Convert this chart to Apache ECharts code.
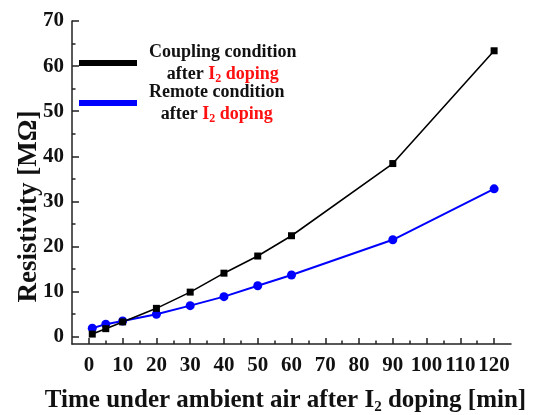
<!DOCTYPE html>
<html>
<head>
<meta charset="utf-8">
<script src="https://cdn.jsdelivr.net/npm/echarts@6/dist/echarts.min.js"></script>
<style>
  html, body { margin: 0; padding: 0; background: #fff; }
  #main { width: 539px; height: 415px; }
</style>
</head>
<body>
<div id="main"></div>
<script>
 // 数据
 var times = [1, 5, 10, 20, 30, 40, 50, 60, 90, 120];
 var coupling = [0.6, 1.8, 3.3, 6.3, 9.9, 14.1, 17.9, 22.4, 38.4, 63.4];
 var remote = [1.9, 2.8, 3.5, 5.0, 6.9, 8.9, 11.3, 13.7, 21.5, 32.8];

 // 刻度
 var xTicks = [0, 10, 20, 30, 40, 50, 60, 70, 80, 90, 100, 110, 120];
 var xMinorTicks = [5, 15, 25, 35, 45, 55, 65, 75, 85, 95, 105, 115];
 var yTicks = [0, 10, 20, 30, 40, 50, 60, 70];
 var yMinorTicks = [5, 15, 25, 35, 45, 55, 65];

 var serif = '"Liberation Serif", "Times New Roman", serif';

 var myChart = echarts.init(document.getElementById('main'));

 function pairs(ys) {
   var arr = [];
   for (var i = 0; i < times.length; i++) {
     arr.push([times[i], ys[i]]);
   }
   return arr;
 }

 var legendRich = {
   t: { fontFamily: serif, fontWeight: 'bold', fontSize: 18, color: '#111', lineHeight: 22, align: 'center' },
   r: { fontFamily: serif, fontWeight: 'bold', fontSize: 18, color: '#ff1010', lineHeight: 22, align: 'center' },
   s: { fontFamily: serif, fontWeight: 'bold', fontSize: 12, color: '#ff1010', lineHeight: 22, align: 'center', verticalAlign: 'bottom' }
 };

 var axisLineStyle = { color: '#222', width: 1.5 };

 var option = {
   animation: false,
   backgroundColor: '#fff',
   grid: {
     left: 72,
     right: 28,
     top: 21,
     bottom: 71,
     outerBoundsMode: 'none'
   },
   legend: {
     orient: 'vertical',
     left: 79,
     top: 43,
     padding: 0,
     itemGap: -2,
     icon: 'rect',
     itemWidth: 58,
     itemHeight: 6,
     data: ['Coupling condition', 'Remote condition'],
     formatter: function(name) {
       return '{t|' + name + '}\n{t|after }{r|I}{s|2}{r| doping}';
     },
     textStyle: {
       padding: [0, 0, 0, 7],
       rich: legendRich
     }
   },
   xAxis: [{
     type: 'value',
     min: -5,
     max: 125,
     name: '{a|Time under ambient air after I}{s|2}{a| doping [min]}',
     nameLocation: 'middle',
     nameGap: 44,
     nameMoveOverlap: false,
     nameTextStyle: {
       padding: [0, 12, 0, 0],
       rich: {
         a: { fontFamily: serif, fontWeight: 'bold', fontSize: 25, color: '#111' },
         s: { fontFamily: serif, fontWeight: 'bold', fontSize: 15, color: '#111', verticalAlign: 'bottom', padding: [0, 0, -2, 0] }
       }
     },
     axisLine: { show: true, onZero: false, lineStyle: axisLineStyle },
     axisTick: { show: true, inside: true, length: 6, customValues: xTicks, lineStyle: axisLineStyle },
     axisLabel: {
       customValues: xTicks,
       margin: 11,
       fontFamily: serif,
       fontWeight: 'bold',
       fontSize: 21,
       color: '#111'
     },
     splitLine: { show: false }
   }, {
     // 次刻度
     type: 'value',
     min: -5,
     max: 125,
     position: 'bottom',
     axisLine: { show: false, onZero: false },
     axisTick: { show: true, inside: true, length: 3.5, customValues: xMinorTicks, lineStyle: axisLineStyle },
     axisLabel: { show: false },
     splitLine: { show: false }
   }],
   yAxis: [{
     type: 'value',
     min: -1.6,
     max: 70,
     name: 'Resistivity [MΩ]',
     nameLocation: 'middle',
     nameGap: 29,
     nameMoveOverlap: false,
     nameTextStyle: {
       fontFamily: serif,
       fontWeight: 'bold',
       fontSize: 27,
       color: '#111',
       padding: [0, 48, 0, 0]
     },
     axisLine: { show: true, onZero: false, lineStyle: axisLineStyle },
     axisTick: { show: true, inside: true, length: 7, customValues: yTicks, lineStyle: axisLineStyle },
     axisLabel: {
       customValues: yTicks,
       margin: 8,
       fontFamily: serif,
       fontWeight: 'bold',
       fontSize: 21,
       color: '#111'
     },
     splitLine: { show: false }
   }, {
     // 次刻度
     type: 'value',
     min: -1.6,
     max: 70,
     position: 'left',
     axisLine: { show: false, onZero: false },
     axisTick: { show: true, inside: true, length: 3.5, customValues: yMinorTicks, lineStyle: axisLineStyle },
     axisLabel: { show: false },
     splitLine: { show: false }
   }],
   series: [{
     name: 'Coupling condition',
     type: 'line',
     data: pairs(coupling),
     symbol: 'rect',
     symbolSize: 7,
     lineStyle: { color: '#000', width: 1.6 },
     itemStyle: { color: '#000' },
     z: 3
   }, {
     name: 'Remote condition',
     type: 'line',
     data: pairs(remote),
     symbol: 'circle',
     symbolSize: 9,
     lineStyle: { color: '#0000ff', width: 2 },
     itemStyle: { color: '#0000ff' },
     z: 2
   }]
 };

 myChart.setOption(option);
</script>
</body>
</html>
